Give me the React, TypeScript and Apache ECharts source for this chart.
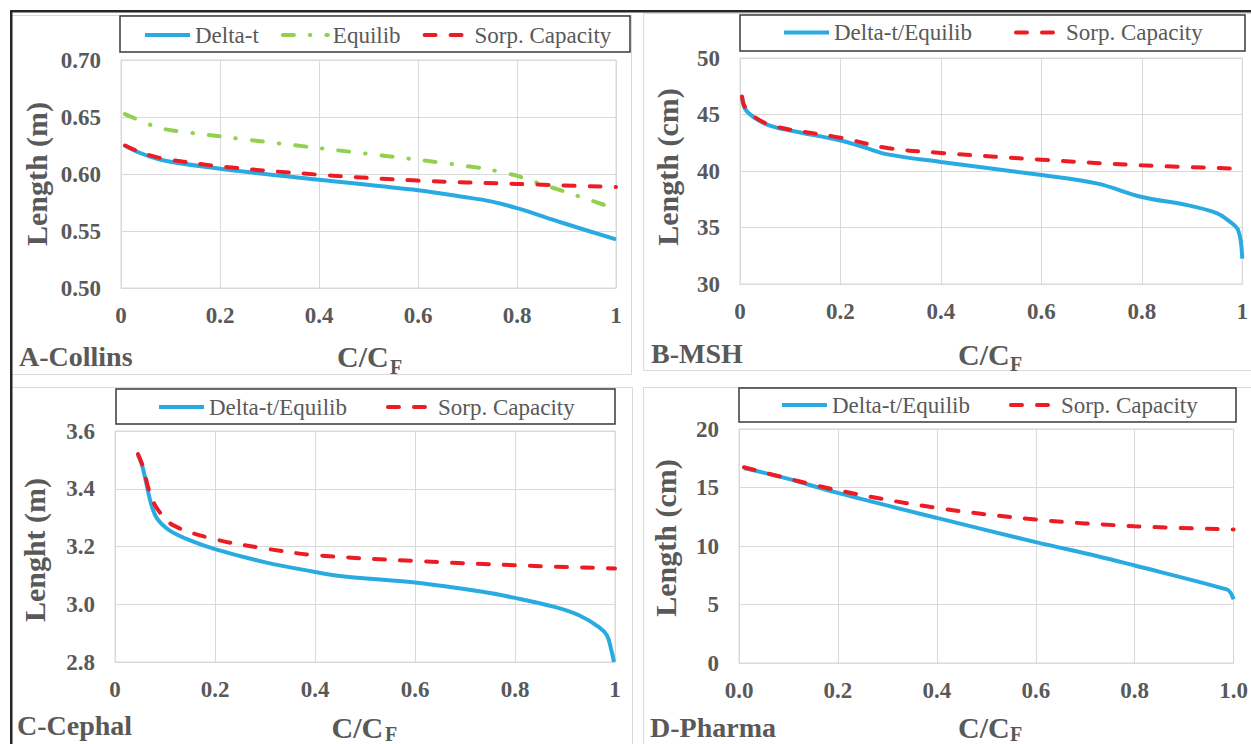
import React, { useEffect, useRef } from "react";
import * as echarts from "echarts";

// ---------- Data ----------
// A - Collins
const collinsDeltaX = [0.008, 0.03, 0.08, 0.2, 0.4, 0.6, 0.69, 0.747, 0.8, 0.893, 1.0];
const collinsDeltaY = [0.625, 0.62, 0.6125, 0.6047, 0.595, 0.5857, 0.58, 0.576, 0.57, 0.557, 0.5426];
const collinsEquilX = [0.008, 0.08, 0.2, 0.4, 0.6, 0.73, 0.8, 0.84, 0.9, 1.0];
const collinsEquilY = [0.6525, 0.64, 0.633, 0.6227, 0.6125, 0.605, 0.5985, 0.5925, 0.584, 0.5694];
const collinsSorpX = [0.008, 0.04, 0.08, 0.2, 0.4, 0.6, 0.8, 1.0];
const collinsSorpY = [0.625, 0.619, 0.614, 0.6067, 0.5994, 0.5942, 0.5913, 0.5886];

// B - MSH
const mshDeltaX = [0.004, 0.01, 0.026, 0.058, 0.105, 0.2, 0.247, 0.294, 0.4, 0.6, 0.712, 0.8, 0.893, 0.949, 0.972, 0.992, 1.0];
const mshDeltaY = [46.55, 45.5, 44.8, 44.04, 43.54, 42.7, 42.1, 41.47, 40.8, 39.65, 38.88, 37.7, 36.96, 36.28, 35.63, 34.75, 32.24];
const mshSorpX = [0.004, 0.01, 0.034, 0.073, 0.2, 0.294, 0.4, 0.6, 0.8, 1.0];
const mshSorpY = [46.6, 45.66, 44.63, 43.9, 42.95, 42.03, 41.6, 41.0, 40.5, 40.2];

// C - Cephal
const cephalDeltaX = [0.046, 0.054, 0.062, 0.072, 0.084, 0.108, 0.149, 0.2, 0.301, 0.4, 0.454, 0.6, 0.735, 0.8, 0.879, 0.928, 0.968, 0.984, 0.992, 0.998];
const cephalDeltaY = [3.517, 3.482, 3.424, 3.349, 3.297, 3.257, 3.222, 3.191, 3.145, 3.112, 3.097, 3.075, 3.043, 3.022, 2.991, 2.962, 2.921, 2.892, 2.846, 2.8];
const cephalSorpX = [0.046, 0.056, 0.068, 0.084, 0.116, 0.2, 0.301, 0.4, 0.6, 0.8, 1.0];
const cephalSorpY = [3.52, 3.476, 3.395, 3.332, 3.274, 3.225, 3.193, 3.17, 3.15, 3.135, 3.124];

// D - Pharma
const pharmaDeltaX = [0.01, 0.092, 0.2, 0.4, 0.6, 0.725, 0.8, 0.986, 0.994, 1.0];
const pharmaDeltaY = [16.67, 15.82, 14.54, 12.4, 10.33, 9.13, 8.33, 6.29, 6.0, 5.43];
const pharmaSorpX = [0.01, 0.2, 0.4, 0.6, 0.8, 1.0];
const pharmaSorpY = [16.73, 14.76, 13.26, 12.26, 11.69, 11.41];

// Axes
const xTicksAD = { min: 0, max: 1, interval: 0.2 };
const yRangeA = { min: 0.5, max: 0.7, interval: 0.05 };
const yRangeB = { min: 30, max: 50, interval: 5 };
const yRangeC = { min: 2.8, max: 3.6, interval: 0.2 };
const yRangeD = { min: 0, max: 20, interval: 5 };

const panelLabels = ["A-Collins", "B-MSH", "C-Cephal", "D-Pharma"];
const yTitles = ["Length (m)", "Length (cm)", "Lenght (m)", "Length (cm)"];

// ---------- Styles ----------
const FONT = "'Times New Roman', 'Liberation Serif', 'DejaVu Serif', serif";
const GRAY = "#595959";
const GRID_C = "#d9d9d9";
const BLUE = "#29abe2";
const RED = "#ed1c24";
const GREEN = "#92d050";

const zip = (xs: number[], ys: number[]) => xs.map((x, i) => [x, ys[i]]);

export default function App() {
  const ref = useRef<HTMLDivElement>(null);

  useEffect(() => {
    if (!ref.current) return;
    const chart = echarts.init(ref.current, undefined, { renderer: "svg" });

    const grids = [
      { left: 121, top: 60, width: 495, height: 228 },
      { left: 740, top: 58, width: 506, height: 226 },
      { left: 115, top: 431, width: 500, height: 231 },
      { left: 739, top: 429, width: 498, height: 234 },
    ];

    const yRanges = [yRangeA, yRangeB, yRangeC, yRangeD];
    const yFmt = [
      (v: number) => v.toFixed(2),
      (v: number) => String(Math.round(v)),
      (v: number) => v.toFixed(1),
      (v: number) => String(Math.round(v)),
    ];
    const xFmt = [
      (v: number) => String(Math.round(v * 10) / 10),
      (v: number) => String(Math.round(v * 10) / 10),
      (v: number) => String(Math.round(v * 10) / 10),
      (v: number) => v.toFixed(1),
    ];

    const labelStyle = { fontFamily: FONT, fontWeight: "bold", fontSize: 23, color: GRAY };

    const xAxes = grids.map((_, i) => ({
      type: "value",
      gridIndex: i,
      ...xTicksAD,
      axisLine: { show: true, lineStyle: { color: GRID_C, width: 1 } },
      axisTick: { show: false },
      splitLine: { show: true, lineStyle: { color: GRID_C, width: 1 } },
      axisLabel: { ...labelStyle, margin: 16, formatter: xFmt[i] },
    }));
    const yAxes = grids.map((_, i) => ({
      type: "value",
      gridIndex: i,
      ...yRanges[i],
      axisLine: { show: false },
      axisTick: { show: false },
      splitLine: { show: true, lineStyle: { color: GRID_C, width: 1 } },
      axisLabel: { ...labelStyle, margin: 20, formatter: yFmt[i] },
    }));

    const SMOOTH = 0.35;
    const solid = (name: string, data: number[][], idx: number) => ({
      type: "line",
      name,
      xAxisIndex: idx,
      yAxisIndex: idx,
      data,
      symbol: "none",
      smooth: SMOOTH,
      lineStyle: { color: BLUE, width: 4 },
      itemStyle: { color: BLUE },
      z: 2,
    });
    const dashed = (name: string, data: number[][], idx: number) => ({
      type: "line",
      name,
      xAxisIndex: idx,
      yAxisIndex: idx,
      data,
      symbol: "none",
      smooth: SMOOTH,
      lineStyle: { color: RED, width: 4, type: [11, 15], cap: "round" },
      itemStyle: { color: RED },
      z: 3,
    });
    const dashDot = (name: string, data: number[][], idx: number) => ({
      type: "line",
      name,
      xAxisIndex: idx,
      yAxisIndex: idx,
      data,
      symbol: "none",
      smooth: 0.2,
      lineStyle: { color: GREEN, width: 4, type: [11, 16, 0.5, 16], cap: "round" },
      itemStyle: { color: GREEN },
      z: 2,
    });

    const series = [
      solid("Delta-t", zip(collinsDeltaX, collinsDeltaY), 0),
      dashDot("Equilib", zip(collinsEquilX, collinsEquilY), 0),
      dashed("Sorp. Capacity", zip(collinsSorpX, collinsSorpY), 0),
      solid("Delta-t/Equilib", zip(mshDeltaX, mshDeltaY), 1),
      dashed("Sorp. Capacity", zip(mshSorpX, mshSorpY), 1),
      solid("Delta-t/Equilib", zip(cephalDeltaX, cephalDeltaY), 2),
      dashed("Sorp. Capacity", zip(cephalSorpX, cephalSorpY), 2),
      solid("Delta-t/Equilib", zip(pharmaDeltaX, pharmaDeltaY), 3),
      dashed("Sorp. Capacity", zip(pharmaSorpX, pharmaSorpY), 3),
    ];

    const legendText = { fontFamily: FONT, fontSize: 23, color: GRAY };
    const legendBase = {
      orient: "horizontal",
      padding: 0,
      itemWidth: 45,
      itemHeight: 14,
      textStyle: legendText,
      selectedMode: false,
      itemStyle: { color: "rgba(0,0,0,0)", borderWidth: 0, borderColor: "rgba(0,0,0,0)" },
      lineStyle: { width: 4 },
    };
    const legends = [
      { ...legendBase, left: 143, top: 23.5, itemGap: 22, data: ["Delta-t", "Equilib", "Sorp. Capacity"] },
      { ...legendBase, left: 782, top: 21, itemGap: 42, data: ["Delta-t/Equilib", "Sorp. Capacity"] },
      { ...legendBase, left: 157, top: 395.5, itemGap: 39, data: ["Delta-t/Equilib", "Sorp. Capacity"] },
      { ...legendBase, left: 780, top: 393.5, itemGap: 39, data: ["Delta-t/Equilib", "Sorp. Capacity"] },
    ];

    const hline = (x1: number, x2: number, y: number, color = GRID_C, w = 1) => ({
      type: "line",
      shape: { x1, y1: y, x2, y2: y },
      style: { stroke: color, lineWidth: w },
      silent: true,
      z: 1,
    });
    const vline = (x: number, y1: number, y2: number, color = GRID_C, w = 1) => ({
      type: "line",
      shape: { x1: x, y1, x2: x, y2 },
      style: { stroke: color, lineWidth: w },
      silent: true,
      z: 1,
    });
    const box = (x: number, y: number, w: number, h: number) => ({
      type: "rect",
      shape: { x, y, width: w, height: h },
      style: { fill: "rgba(0,0,0,0)", stroke: "#3a3a3a", lineWidth: 1.5 },
      silent: true,
      z: 5,
    });
    const txt = (text: string, x: number, y: number, size: number, extra: any = {}) => ({
      type: "text",
      x,
      y,
      silent: true,
      z: 5,
      ...extra,
      style: {
        text,
        fontFamily: FONT,
        fontWeight: "bold",
        fontSize: size,
        fill: GRAY,
        textAlign: "left",
        textVerticalAlign: "middle",
        ...(extra.style || {}),
      },
    });

    const graphic = [
      // panel borders
      hline(12, 631.5, 15.5), vline(631.5, 15.5, 374.5), hline(12, 631.5, 374.5),
      vline(643.5, 13, 370.5), hline(643.5, 1251, 13.5), hline(643.5, 1251, 370.5),
      hline(12, 632.5, 387.5), vline(632.5, 387.5, 744),
      vline(643.5, 387.5, 744), hline(643.5, 1251, 387.5),
      // outer black frame
      { type: "rect", shape: { x: 10, y: 10, width: 1241, height: 2.5 }, style: { fill: "#262626" }, silent: true, z: 6 },
      { type: "rect", shape: { x: 10, y: 10, width: 2.5, height: 734 }, style: { fill: "#262626" }, silent: true, z: 6 },
      // legend boxes
      box(120, 16, 510, 36),
      box(740, 15, 505, 36),
      box(116, 389, 499, 35),
      box(739, 388, 497, 34),
      // panel labels
      txt(panelLabels[0], 19, 356.5, 28),
      txt(panelLabels[1], 651, 353, 28),
      txt(panelLabels[2], 17, 725, 28),
      txt(panelLabels[3], 650, 727, 28),
      // x titles C/C_F
      txt("C/C", 337, 356.5, 30), txt("F", 390, 366.5, 20),
      txt("C/C", 958, 354, 30), txt("F", 1010, 364, 20),
      txt("C/C", 331.5, 727.5, 30), txt("F", 385, 733.5, 20),
      txt("C/C", 958, 727.5, 30), txt("F", 1010, 733.5, 20),
      // y titles
      txt(yTitles[0], 36, 174, 30, { rotation: Math.PI / 2, style: { textAlign: "center" } }),
      txt(yTitles[1], 667, 167, 30, { rotation: Math.PI / 2, style: { textAlign: "center" } }),
      txt(yTitles[2], 34, 550, 30, { rotation: Math.PI / 2, style: { textAlign: "center" } }),
      txt(yTitles[3], 665, 538, 30, { rotation: Math.PI / 2, style: { textAlign: "center" } }),
    ];

    chart.setOption({
      animation: false,
      backgroundColor: "#ffffff",
      textStyle: { fontFamily: FONT },
      grid: grids.map((g) => ({ ...g, show: true, borderColor: GRID_C, borderWidth: 1, containLabel: false })),
      xAxis: xAxes,
      yAxis: yAxes,
      legend: legends,
      series,
      graphic,
    } as any);

    return () => chart.dispose();
  }, []);

  return (
    <div
      ref={ref}
      style={{ position: "fixed", left: 0, top: 0, width: 1251, height: 744, background: "#fff" }}
    />
  );
}
